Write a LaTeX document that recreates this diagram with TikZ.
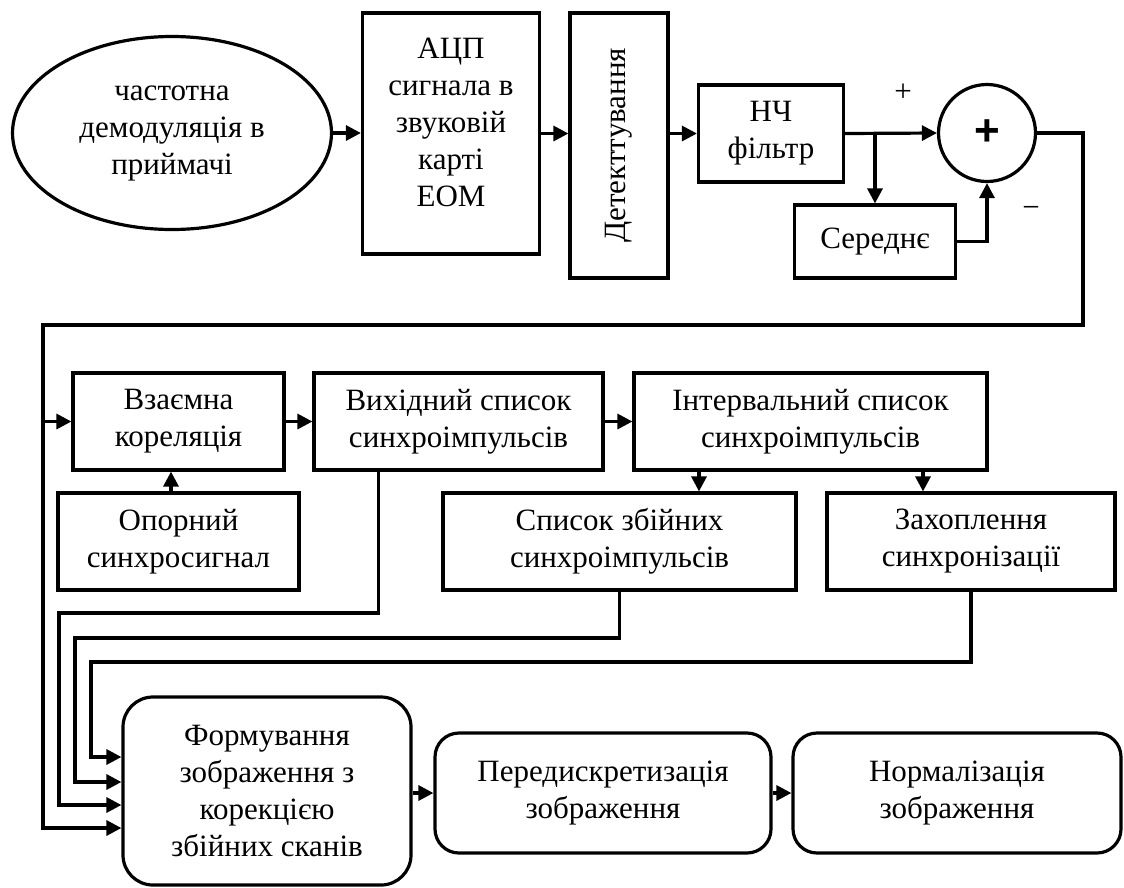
\documentclass[tikz,border=0pt]{standalone}
\usepackage{fontspec}
\setmainfont{Liberation Serif}
\setsansfont{Liberation Sans}
\usetikzlibrary{arrows.meta,shapes.geometric}
\begin{document}
\begin{tikzpicture}[x=1pt,y=-1pt,
  txt/.style={font=\fontsize{31}{37}\selectfont},
  box/.style={draw, line width=3.2pt, inner sep=0pt, align=center, txt},
  rbox/.style={box, rounded corners=24pt},
  line/.style={line width=3.2pt},
  conn/.style={line width=3.2pt, -{Triangle[length=15pt,width=15pt]}}
]
\useasboundingbox (0,0) rectangle (1124,887);
% top row
\node[box, ellipse, minimum width=319pt, minimum height=193pt] (dem) at (172,133) {частотна\\демодуляція в\\приймачі};
\node[box, minimum width=177pt, minimum height=241pt] (adc) at (451,133.5) {};
\node[txt, align=center, inner sep=0pt] (adctext) at (451,122) {АЦП\\сигнала в\\звуковій\\карті\\ЕОМ};
\node[box, minimum width=98pt, minimum height=265pt] (det) at (619,145.5) {\rotatebox{90}{Детекттування}};
\node[box, minimum width=145pt, minimum height=97pt] (nch) at (771,133.5) {НЧ\\фільтр};
\node[draw, circle, line width=3.2pt, minimum size=97pt, inner sep=0pt] (sum) at (987,133) {};
\node[font=\sffamily\bfseries\fontsize{44}{44}\selectfont, inner sep=0pt] (sumplus) at (sum) {+};
\node[box, minimum width=161pt, minimum height=73pt] (sred) at (875,241.5) {Середнє};
\node[txt, inner sep=0pt] (plus) at (903,93) {+};
\node[txt, inner sep=0pt] (minus) at (1031,212) {−};
% middle rows
\node[box, minimum width=211pt, minimum height=97pt] (vz) at (178.5,421.5) {Взаємна\\кореляція};
\node[box, minimum width=241pt, minimum height=97pt] (op) at (178.5,541.5) {Опорний\\синхросигнал};
\node[box, minimum width=289pt, minimum height=97pt] (vyh) at (458.5,421.5) {Вихідний список\\синхроімпульсів};
\node[box, minimum width=353pt, minimum height=97pt] (int) at (810.5,421.5) {Інтервальний список\\синхроімпульсів};
\node[box, minimum width=353pt, minimum height=97pt] (sp) at (619.5,541.5) {Список збійних\\синхроімпульсів};
\node[box, minimum width=288pt, minimum height=97pt] (zah) at (971,541.5) {Захоплення\\синхронізації};
% bottom row
\node[rbox, rounded corners=30pt, minimum width=288pt, minimum height=188pt] (form) at (267,791) {Формування\\зображення з\\корекцією\\збійних сканів};
\node[rbox, minimum width=336pt, minimum height=120pt] (per) at (603,793) {Передискретизація\\зображення};
\node[rbox, minimum width=328pt, minimum height=120pt] (norm) at (957,793) {Нормалізація\\зображення};
% connectors
\draw[conn] (dem.east) -- (dem.east -| adc.west);
\draw[conn] (adc.east) -- (adc.east -| det.west);
\draw[conn] (nch.west -| det.east) -- (nch.west);
\draw[conn] (nch.east) -- (sum.west);
\draw[conn] (sred.north |- nch.east) -- (sred.north);
\draw[conn] (sred.east) -| (sum.south);
\draw[conn] (sum.east) -| (1083,325) -| (43,828) -- (form.west |- 0,828);
\draw[conn] (43,421.5) -- (vz.west);
\draw[conn] (vz.east) -- (vyh.west);
\draw[conn] (vyh.east) -- (int.west);
\draw[conn] (op.north -| 171,0) -- (vz.south -| 171,0);
\draw[conn] (int.south -| 699,0) -- (sp.north -| 699,0);
\draw[conn] (int.south -| 923,0) -- (zah.north -| 923,0);
\draw[conn] (vyh.south -| 378.6,0) |- (59,613) |- (form.west |- 0,805);
\draw[conn] (sp.south) |- (75,638) |- (form.west |- 0,782);
\draw[conn] (zah.south) |- (91,662) |- (form.west |- 0,757);
\draw[conn] (form.east |- per.west) -- (per.west);
\draw[conn] (per.east) -- (norm.west);
\end{tikzpicture}
\end{document}
